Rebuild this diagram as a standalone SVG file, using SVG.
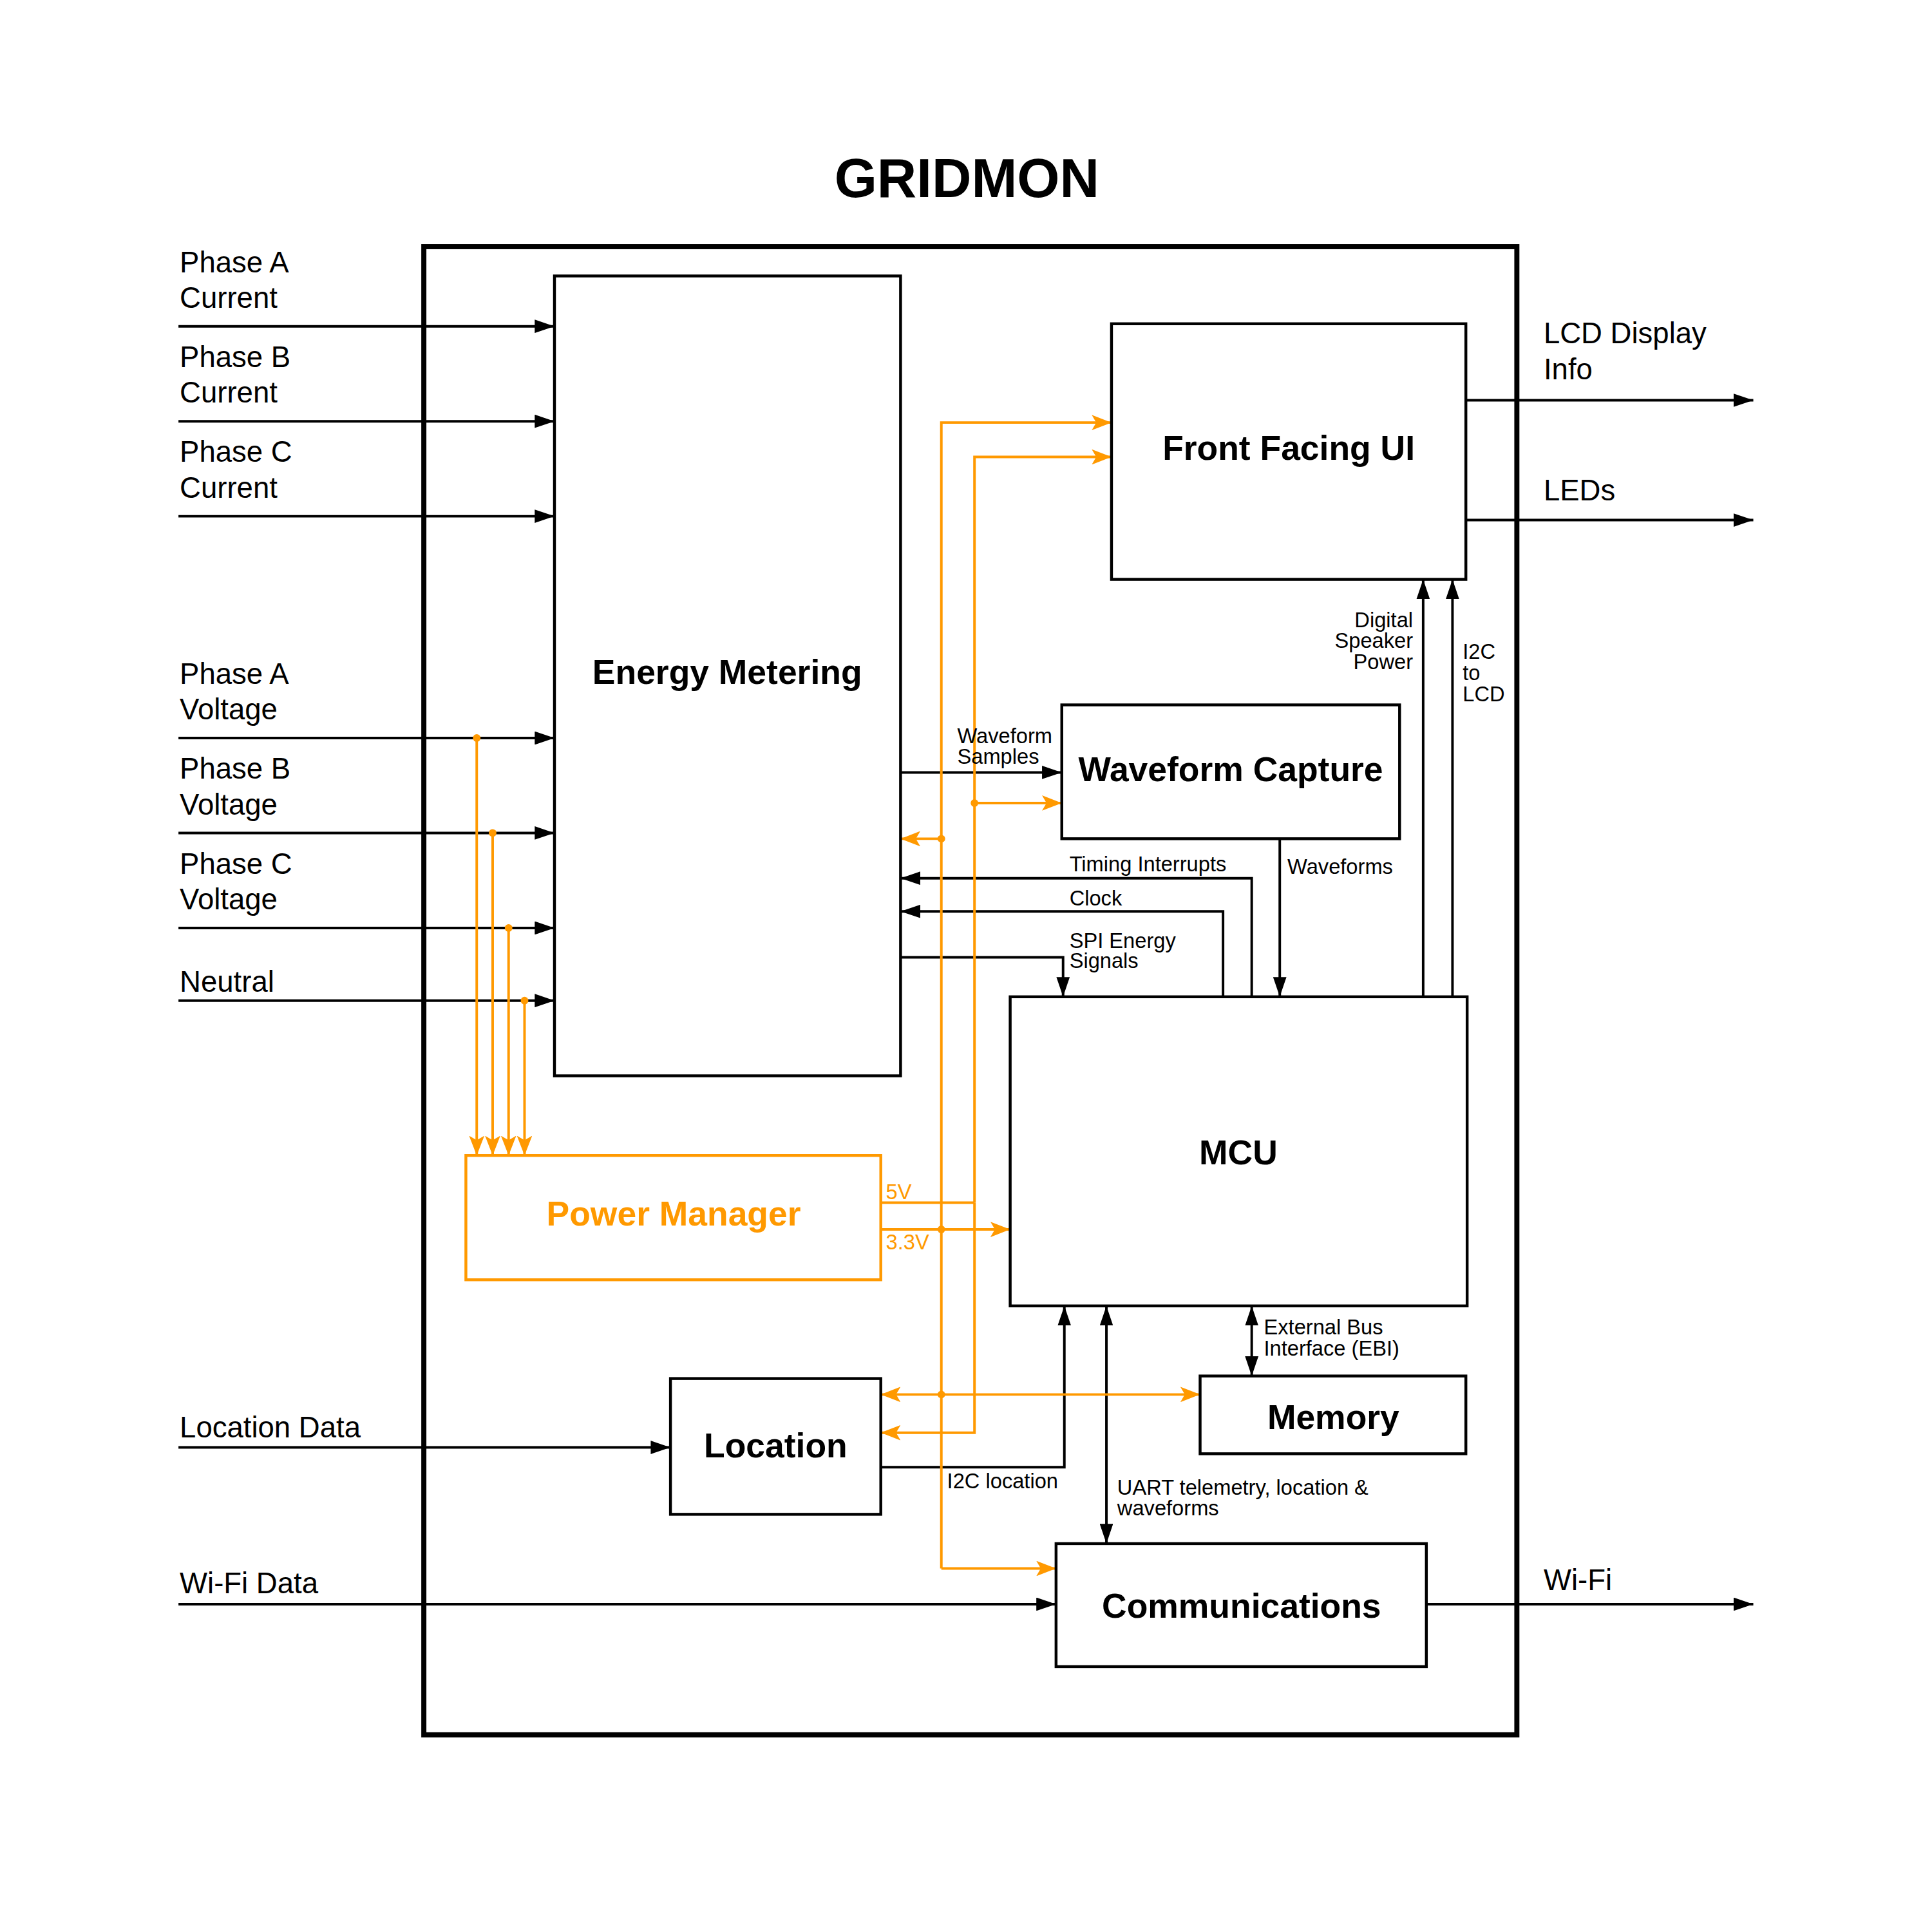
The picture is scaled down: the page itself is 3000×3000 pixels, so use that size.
<svg xmlns="http://www.w3.org/2000/svg" width="3000" height="3000" viewBox="0 0 3000 3000">
<defs>
<style>
.box{fill:#fff;stroke:#000;stroke-width:4.5}
.pbox{fill:#fff;stroke:#FF9900;stroke-width:4.5}
.frame{fill:none;stroke:#000;stroke-width:8}
.bk{fill:none;stroke:#000;stroke-width:4}
.or{fill:none;stroke:#FF9900;stroke-width:4}
.ba{marker-end:url(#ab)}
.bb{marker-start:url(#abs);marker-end:url(#ab)}
.oa{marker-end:url(#ao)}
.dot{fill:#FF9900}
.title{font-family:"Liberation Sans",Arial,sans-serif;font-weight:bold;font-size:86px;text-anchor:middle}
.blk{font-family:"Liberation Sans",Arial,sans-serif;font-weight:bold;font-size:54px;text-anchor:middle}
.io{font-family:"Liberation Sans",Arial,sans-serif;font-size:46px}
.sm{font-family:"Liberation Sans",Arial,sans-serif;font-size:33px}
.smo{font-family:"Liberation Sans",Arial,sans-serif;font-size:33px;fill:#FF9900}
</style>
<marker id="ab" markerUnits="userSpaceOnUse" markerWidth="31" markerHeight="21" refX="31" refY="10.5" orient="auto"><path d="M0,0 L31,10.5 L0,21 z" fill="#000"/></marker>
<marker id="abs" markerUnits="userSpaceOnUse" markerWidth="31" markerHeight="21" refX="31" refY="10.5" orient="auto-start-reverse"><path d="M0,0 L31,10.5 L0,21 z" fill="#000"/></marker>
<marker id="ao" markerUnits="userSpaceOnUse" markerWidth="31" markerHeight="24" refX="31" refY="12" orient="auto"><path d="M0,0 L31,12 L0,24 L7,12 z" fill="#FF9900"/></marker>
</defs>
<rect width="3000" height="3000" fill="#fff"/>
<g id="diagram" transform="scale(0.98965)">
<text class="title" x="1517" y="309">GRIDMON</text>
<rect class="frame" x="665" y="387" width="1715" height="2335"/>

<g id="connectors">
<path class="bk ba" d="M280,512 H870"/>
<path class="bk ba" d="M280,661 H870"/>
<path class="bk ba" d="M280,810 H870"/>
<path class="bk ba" d="M280,1158 H870"/>
<path class="bk ba" d="M280,1307 H870"/>
<path class="bk ba" d="M280,1456 H870"/>
<path class="bk ba" d="M280,1570 H870"/>
<path class="bk ba" d="M280,2271 H1052"/>
<path class="bk ba" d="M280,2517 H1657"/>
<path class="bk ba" d="M2300,628 H2751"/>
<path class="bk ba" d="M2300,816 H2751"/>
<path class="bk ba" d="M2238,2517 H2751"/>
<path class="bk ba" d="M1413,1212 H1666"/>
<path class="bk ba" d="M1964,1564 V1378 H1413"/>
<path class="bk ba" d="M1919,1564 V1430 H1413"/>
<path class="bk ba" d="M1413,1502 H1668 V1564"/>
<path class="bk ba" d="M2008,1316 V1564"/>
<path class="bk ba" d="M2233,1564 V909"/>
<path class="bk ba" d="M2279,1564 V909"/>
<path class="bk ba" d="M1382,2302 H1670 V2049"/>
<path class="bk bb" d="M1736,2049 V2422"/>
<path class="bk bb" d="M1964,2049 V2159"/>
<path class="or oa" d="M748,1158 V1813"/>
<path class="or oa" d="M773,1307 V1813"/>
<path class="or oa" d="M798,1456 V1813"/>
<path class="or oa" d="M823,1570 V1813"/>
<path class="or oa" d="M1477,2461 V663 H1744"/>
<path class="or oa" d="M1477,2461 H1657"/>
<path class="or oa" d="M1477,1316 H1413"/>
<path class="or oa" d="M1382,1929 H1585"/>
<path class="or oa" d="M1477,2188 H1382"/>
<path class="or oa" d="M1477,2188 H1883"/>
<path class="or" d="M1382,1887 H1529"/>
<path class="or oa" d="M1529,1887 V717 H1744"/>
<path class="or oa" d="M1529,1887 V2248 H1382"/>
<path class="or oa" d="M1529,1260 H1666"/>
<circle class="dot" cx="748" cy="1158" r="6"/>
<circle class="dot" cx="773" cy="1307" r="6"/>
<circle class="dot" cx="798" cy="1456" r="6"/>
<circle class="dot" cx="823" cy="1570" r="6"/>
<circle class="dot" cx="1477" cy="1316" r="6"/>
<circle class="dot" cx="1477" cy="1929" r="6"/>
<circle class="dot" cx="1477" cy="2188" r="6"/>
<circle class="dot" cx="1529" cy="1260" r="6"/>
</g>

<g id="connector-labels">
<text class="io" x="282" y="427">Phase A</text>
<text class="io" x="282" y="483">Current</text>
<text class="io" x="282" y="576">Phase B</text>
<text class="io" x="282" y="632">Current</text>
<text class="io" x="282" y="725">Phase C</text>
<text class="io" x="282" y="781">Current</text>
<text class="io" x="282" y="1073">Phase A</text>
<text class="io" x="282" y="1129">Voltage</text>
<text class="io" x="282" y="1222">Phase B</text>
<text class="io" x="282" y="1278">Voltage</text>
<text class="io" x="282" y="1371">Phase C</text>
<text class="io" x="282" y="1427">Voltage</text>
<text class="io" x="282" y="1556">Neutral</text>
<text class="io" x="282" y="2255">Location Data</text>
<text class="io" x="282" y="2500">Wi-Fi Data</text>
<text class="io" x="2422" y="539">LCD Display</text>
<text class="io" x="2422" y="595">Info</text>
<text class="io" x="2422" y="785">LEDs</text>
<text class="io" x="2422" y="2495">Wi-Fi</text>
<text class="sm" x="1502" y="1166">Waveform</text>
<text class="sm" x="1502" y="1198">Samples</text>
<text class="sm" x="1678" y="1367">Timing Interrupts</text>
<text class="sm" x="1678" y="1421">Clock</text>
<text class="sm" x="1678" y="1487">SPI Energy</text>
<text class="sm" x="1678" y="1519">Signals</text>
<text class="sm" x="2020" y="1371">Waveforms</text>
<text class="sm" x="2217" y="984" text-anchor="end">Digital</text>
<text class="sm" x="2217" y="1017" text-anchor="end">Speaker</text>
<text class="sm" x="2217" y="1050" text-anchor="end">Power</text>
<text class="sm" x="2295" y="1034">I2C</text>
<text class="sm" x="2295" y="1067">to</text>
<text class="sm" x="2295" y="1100">LCD</text>
<text class="sm" x="1983" y="2094">External Bus</text>
<text class="sm" x="1983" y="2127">Interface (EBI)</text>
<text class="sm" x="1486" y="2335">I2C location</text>
<text class="sm" x="1753" y="2345">UART telemetry, location &amp;</text>
<text class="sm" x="1753" y="2378">waveforms</text>
<text class="smo" x="1390" y="1881">5V</text>
<text class="smo" x="1390" y="1960">3.3V</text>
</g>

<g id="energy-metering">
<rect class="box" x="870" y="433" width="543" height="1255"/>
<text class="blk" x="1141" y="1073">Energy Metering</text>
</g>
<g id="front-facing-ui">
<rect class="box" x="1744" y="508" width="556" height="401"/>
<text class="blk" x="2022" y="721">Front Facing UI</text>
</g>
<g id="waveform-capture">
<rect class="box" x="1666" y="1106" width="530" height="210"/>
<text class="blk" x="1931" y="1226">Waveform Capture</text>
</g>
<g id="mcu">
<rect class="box" x="1585" y="1564" width="717" height="485"/>
<text class="blk" x="1943" y="1827">MCU</text>
</g>
<g id="power-manager">
<rect class="pbox" x="731" y="1813" width="651" height="195"/>
<text class="blk" x="1057" y="1923" fill="#FF9900">Power Manager</text>
</g>
<g id="location">
<rect class="box" x="1052" y="2163" width="330" height="213"/>
<text class="blk" x="1217" y="2287">Location</text>
</g>
<g id="memory">
<rect class="box" x="1883" y="2159" width="417" height="122"/>
<text class="blk" x="2092" y="2242">Memory</text>
</g>
<g id="communications">
<rect class="box" x="1657" y="2422" width="581" height="193"/>
<text class="blk" x="1948" y="2538">Communications</text>
</g>
</g>
</svg>
